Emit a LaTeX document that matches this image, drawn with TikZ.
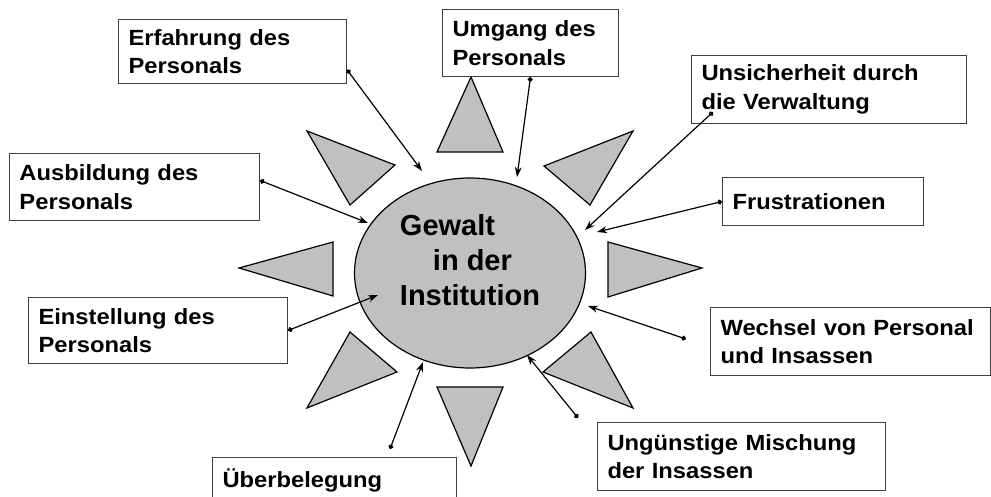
\documentclass[tikz,border=0pt]{standalone}
\usepackage{fontspec}
\setmainfont{Liberation Sans}
\newfontfamily\boxfont[FakeStretch=1.08]{Liberation Sans}
\usepackage{tikz}
\usetikzlibrary{shapes.geometric, arrows.meta}
\definecolor{raygrey}{RGB}{192, 192, 192}
\definecolor{framegrey}{RGB}{64, 64, 64}

\tikzset{
  cause/.style={rectangle, draw=framegrey, line width=1pt, fill=white, anchor=north west, inner xsep=10pt, inner ysep=0pt, align=left, font=\boxfont\bfseries\fontsize{22}{28.5}\selectfont},
  ray/.style={fill=raygrey, draw=black, line width=1.2pt},
  link/.style={{Circle[length=5pt]}-{Stealth[length=10pt, width=7pt]}, line width=1.2pt}
}

\begin{document}
\begin{tikzpicture}[x=1pt, y=-1pt]
\useasboundingbox (0,0) rectangle (991,497);
% rays of the sun
\foreach \ax/\ay/\bx/\by/\cx/\cy in {471/77/437/152/503/152, 633/131/544/166/590/205, 608/242/702/268/608/297, 591/332/633/408/543/372, 437/387/503/387/471/466, 350/332/397/372/307/408, 239/268/333/242/333/296, 307/131/395/165/350/205}
  \filldraw[ray] (\ax,\ay) -- (\bx,\by) -- (\cx,\cy) -- cycle;
% centre
\node[ellipse, draw=black, line width=1.2pt, fill=raygrey, minimum width=231pt, minimum height=190pt] (gewalt) at (470,273) {};
\node[align=left, inner sep=0pt, font=\bfseries\fontsize{29}{35}\selectfont] (gewalttext) at (470,260) {Gewalt\\\hspace*{33pt}in der\\Institution};
% causes
\node[cause, text width=208pt, minimum height=64pt] (erf) at (118,19) {Erfahrung des\\Personals};
\node[cause, text width=156pt, minimum height=67pt] (umg) at (442,9) {Umgang des\\Personals};
\node[cause, text width=255pt, minimum height=68pt] (uns) at (691,55) {Unsicherheit durch\\die Verwaltung};
\node[cause, text width=181pt, minimum height=48pt] (fru) at (722,177) {Frustrationen};
\node[cause, text width=230pt, minimum height=67pt] (aus) at (9,153) {Ausbildung des\\Personals};
\node[cause, text width=239pt, minimum height=66pt] (ein) at (28,297) {Einstellung des\\Personals};
\node[cause, text width=260pt, minimum height=68pt] (wec) at (710,307) {Wechsel von Personal\\und Insassen};
\node[cause, text width=268pt, minimum height=68pt] (ung) at (597,422) {Ungünstige Mischung\\der Insassen};
\node[cause, text width=224pt, minimum height=46pt] (ueb) at (212,457) {Überbelegung};
% connector ends
\coordinate (erf-tip) at (422,171);
\coordinate (umg-tip) at (517,177);
\coordinate (uns-dot) at (713,112);
\coordinate (uns-tip) at (585,230);
\coordinate (fru-tip) at (597,232);
\coordinate (aus-tip) at (368,223);
\coordinate (ein-tip) at (378,295);
\coordinate (wec-dot) at (686,339);
\coordinate (wec-tip) at (588,306);
\coordinate (ung-dot) at (578,418);
\coordinate (ung-tip) at (527,355);
\coordinate (ueb-dot) at (390,449);
\coordinate (ueb-tip) at (423,362);
% connectors
\draw[link] (erf.-9) -- (erf-tip);
\draw[link] (umg.south) -- (umg-tip);
\draw[link] (uns-dot) -- (uns-tip);
\draw[link] (fru.west) -- (fru-tip);
\draw[link] (aus.3) -- (aus-tip);
\draw[link] (ein.east) -- (ein-tip);
\draw[link] (wec-dot) -- (wec-tip);
\draw[link] (ung-dot) -- (ung-tip);
\draw[link] (ueb-dot) -- (ueb-tip);
\end{tikzpicture}
\end{document}
